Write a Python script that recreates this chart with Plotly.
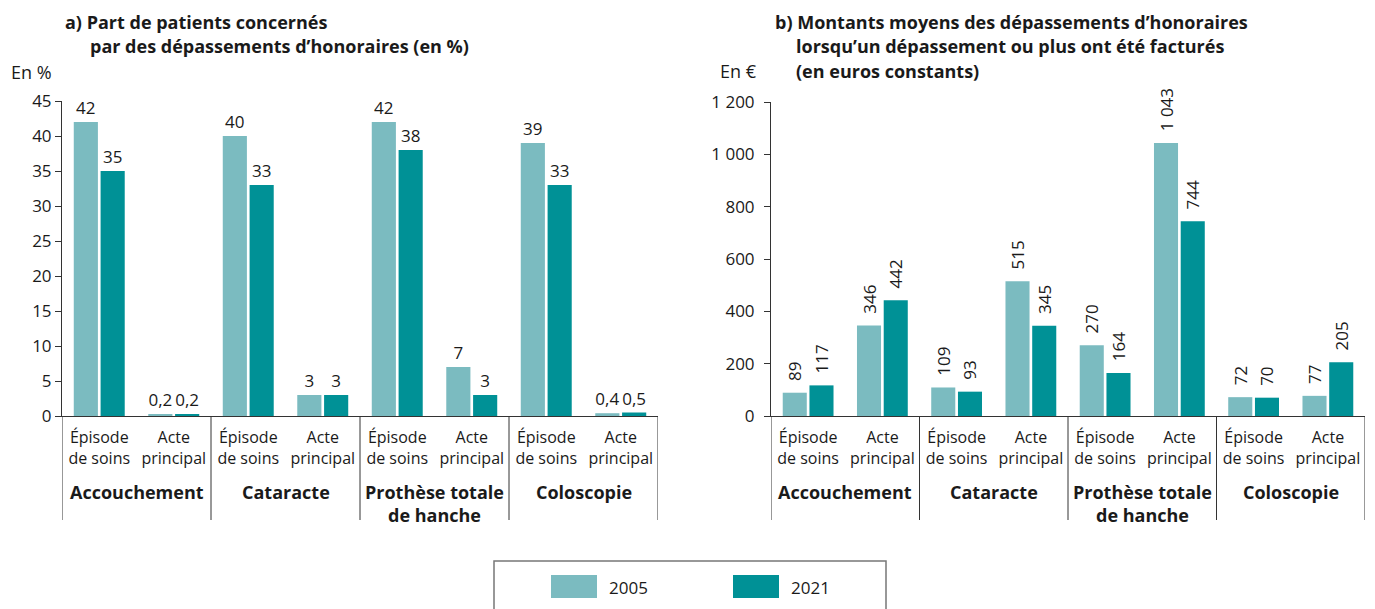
import plotly.graph_objects as go

W, H = 1375, 609

# categories
actes = ["Épisode<br>de soins", "Acte<br>principal"]
groupes = ["Accouchement", "Cataracte", "Prothèse totale<br>de hanche", "Coloscopie"]
annees = ["2005", "2021"]

# a) part de patients concernés (en %) - order: Ep, Acte for each group
part_2005 = [42, 0.2, 40, 3, 42, 7, 39, 0.4]
part_2021 = [35, 0.2, 33, 3, 38, 3, 33, 0.5]

# b) montants moyens (en euros constants)
mont_2005 = [89, 346, 109, 515, 270, 1043, 72, 77]
mont_2021 = [117, 442, 93, 345, 164, 744, 70, 205]

ticks_a = [0, 5, 10, 15, 20, 25, 30, 35, 40, 45]
ticks_b = [0, 200, 400, 600, 800, 1000, 1200]

c2005 = '#7bbbc0'
c2021 = '#009196'
txt = '#1a1a1a'
FONT = 'Open Sans'
OFF = 8  # page body margin

def px_x(p):
    return (p - OFF) / W

def px_y(p):
    return 1 - (p - OFF) / H

def fr(v):
    return str(v).replace('.', ',')

def sp(v):
    return f'{v:,}'.replace(',', ' ')

xpos = list(range(8))
subs = [actes[i % 2] for i in xpos]

fig = go.Figure()
for vals, col, name in [(part_2005, c2005, annees[0]), (part_2021, c2021, annees[1])]:
    fig.add_trace(go.Bar(x=xpos, y=vals, name=name, marker_color=col, marker_line_width=0,
                         text=[fr(v) for v in vals], textposition='outside', constraintext='none',
                         cliponaxis=False, textfont=dict(size=17, color=txt, family=FONT),
                         xaxis='x', yaxis='y', showlegend=False))
for vals, col, name in [(mont_2005, c2005, annees[0]), (mont_2021, c2021, annees[1])]:
    # leading nbsp to push rotated labels a bit off the bar top
    fig.add_trace(go.Bar(x=xpos, y=vals, name=name, marker_color=col, marker_line_width=0,
                         text=['\u00a0\u00a0' + sp(v) for v in vals], textposition='outside',
                         textangle=-90, constraintext='none', cliponaxis=False,
                         textfont=dict(size=17, color=txt, family=FONT),
                         xaxis='x2', yaxis='y2', showlegend=False))

xcommon = dict(range=[-0.5, 7.5], tickvals=xpos, ticktext=subs, showline=True, linecolor='#333',
               linewidth=1, ticks='', showgrid=False, zeroline=False, fixedrange=True,
               automargin=False, ticklabelstandoff=7,
               tickfont=dict(size=16, color=txt, family=FONT))
ycommon = dict(showline=True, linecolor='#333', linewidth=1, ticks='outside', ticklen=6,
               tickcolor='#333', showgrid=False, zeroline=False, fixedrange=True,
               automargin=False, tickfont=dict(size=17, color=txt, family=FONT))

fig.update_layout(
    width=W, height=H, margin=dict(l=0, r=0, t=0, b=0, autoexpand=False),
    plot_bgcolor='#fff', paper_bgcolor='#fff',
    barmode='group', bargap=0.28, bargroupgap=0.1,
    font=dict(family=FONT, color=txt),
    xaxis=dict(domain=[px_x(62), px_x(658)], anchor='y', **xcommon),
    yaxis=dict(domain=[px_y(416), px_y(101)], anchor='x', range=[0, 45], tickvals=ticks_a,
               ticktext=[str(t) for t in ticks_a], **ycommon),
    xaxis2=dict(domain=[px_x(771), px_x(1365)], anchor='y2', **xcommon),
    yaxis2=dict(domain=[px_y(416), px_y(102)], anchor='x2', range=[0, 1200], tickvals=ticks_b,
                ticktext=[sp(t) for t in ticks_b], ticklabelstandoff=6, **ycommon),
)

# group separators and group labels
for xr in ['x', 'x2']:
    for b in [-0.5, 1.5, 3.5, 5.5, 7.5]:
        fig.add_shape(type='line', xref=xr, yref='paper', x0=b, x1=b, y0=px_y(416), y1=px_y(520),
                      line=dict(color='#333', width=1))
    for i, g in enumerate(groupes):
        fig.add_annotation(x=2 * i + 0.5, xref=xr, y=px_y(478), yref='paper', text=f'<b>{g}</b>',
                           showarrow=False, yanchor='top', xanchor='center',
                           font=dict(size=18, color=txt, family=FONT))

# titles
titles = [
    (63, 21.5, '<b>a) Part de patients concernés</b>'),
    (88, 46, '<b>par des dépassements d’honoraires (en %)</b>'),
    (773, 21.5, '<b>b) Montants moyens des dépassements d’honoraires</b>'),
    (794, 46, '<b>lorsqu’un dépassement ou plus ont été facturés</b>'),
    (794, 71, '<b>(en euros constants)</b>'),
]
for x, y, t in titles:
    fig.add_annotation(x=px_x(x), y=px_y(y), xref='paper', yref='paper', text=t, showarrow=False,
                       xanchor='left', yanchor='middle', font=dict(size=18, color=txt, family=FONT))
for x, y, t in [(9, 72, 'En %'), (718, 71, 'En €')]:
    fig.add_annotation(x=px_x(x), y=px_y(y), xref='paper', yref='paper', text=t, showarrow=False,
                       xanchor='left', yanchor='middle', font=dict(size=18, color=txt, family=FONT))

# legend box
fig.add_shape(type='rect', xref='paper', yref='paper', x0=px_x(494), x1=px_x(886),
              y0=px_y(630), y1=px_y(561), line=dict(color='#777', width=1.5))
for x, col, name in [(551, c2005, annees[0]), (733, c2021, annees[1])]:
    fig.add_shape(type='rect', xref='paper', yref='paper', x0=px_x(x), x1=px_x(x + 46),
                  y0=px_y(598), y1=px_y(575), fillcolor=col, line_width=0)
    fig.add_annotation(x=px_x(x + 56), y=px_y(587), xref='paper', yref='paper', text=name,
                       showarrow=False, xanchor='left', yanchor='middle',
                       font=dict(size=17, color=txt, family=FONT))

fig.write_html("out.html")
